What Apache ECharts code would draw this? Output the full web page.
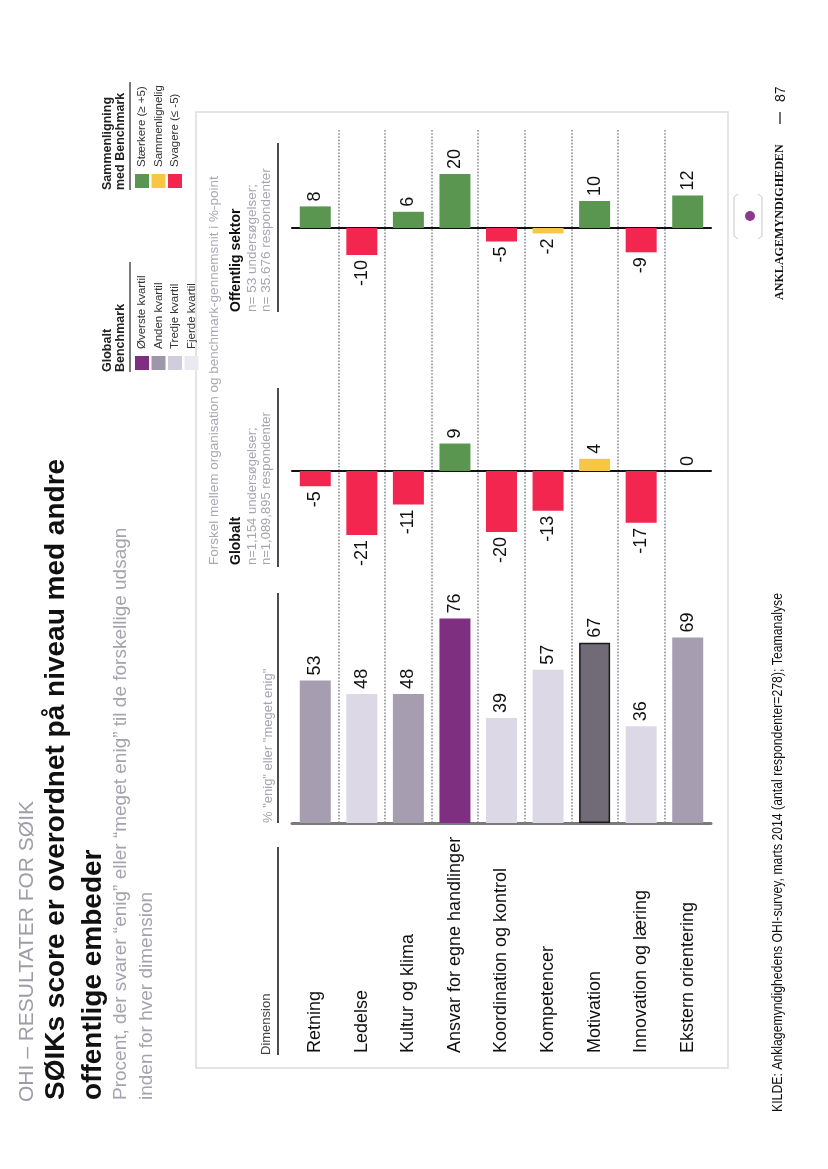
<!DOCTYPE html>
<html><head><meta charset="utf-8">
<script src="https://cdn.jsdelivr.net/npm/echarts@6/dist/echarts.min.js"></script>
<style>html,body{margin:0;padding:0;background:#fff}#c{width:828px;height:1169px}</style>
</head><body><div id="c"></div>
<script>
// ---------- data ----------
const dimensions = ['Retning','Ledelse','Kultur og klima','Ansvar for egne handlinger','Koordination og kontrol','Kompetencer','Motivation','Innovation og læring','Ekstern orientering'];
const agreePct = [53,48,48,76,39,57,67,36,69];
const benchmarkQuartile = [2,3,2,1,3,3,2,3,2];
const highlightedDimension = 'Motivation';
const diffGlobal = [-5,-21,-11,9,-20,-13,4,-17,0];
const diffPublicSector = [8,-10,6,20,-5,-2,10,-9,12];
const quartileLegend = ['Øverste kvartil','Anden kvartil','Tredje kvartil','Fjerde kvartil'];
const compareLegend = ['Stærkere (≥ +5)','Sammenlignelig','Svagere (≤ -5)'];

// ---------- styles ----------
const FONT = 'Liberation Sans, Arial, sans-serif';
const quartileColors = {1:'#7e2f80',2:'#a69eb0',3:'#dcd8e6',4:'#eeedf3'};
const legendQuartileColors = ['#7e2f80','#9e97a8','#d2cddc','#ebe9f0'];
const cmpColors = {up:'#5b9650', same:'#f7c744', down:'#f2264f'};
function cmpColor(v){ return v >= 5 ? cmpColors.up : (v <= -5 ? cmpColors.down : cmpColors.same); }

function barLabel(v){
  const neg = v < 0;
  return {show:true, rotate:90, position: neg ? 'bottom':'top', align: neg ? 'right':'left',
    verticalAlign:'middle', distance:5, fontSize:18, fontFamily:FONT, color:'#111', formatter: String(v)};
}

const data1 = agreePct.map((v,i)=>({
  value:v,
  itemStyle: dimensions[i]===highlightedDimension
    ? {color:'#716b78', borderColor:'#1a1a1a', borderWidth:1.5}
    : {color:quartileColors[benchmarkQuartile[i]]},
  label: barLabel(v)
}));
const data2 = diffGlobal.map(v=>({value:v,itemStyle:{color:cmpColor(v)},label:barLabel(v)}));
const data3 = diffPublicSector.map(v=>({value:v,itemStyle:{color:cmpColor(v)},label:barLabel(v)}));

// ---------- graphic helpers ----------
function vt(x,y,text,opt,extra){
  return Object.assign({type:'text', x:x, y:y, rotation:Math.PI/2, silent:true, z:10,
    style:Object.assign({text:text, fill:'#222', fontSize:13, fontFamily:FONT, align:'left', verticalAlign:'middle'}, opt||{})}, extra||{});
}
function ln(x1,y1,x2,y2,stroke,w){
  return {type:'line', silent:true, z:10, shape:{x1,y1,x2,y2}, style:{stroke:stroke||'#111', lineWidth:w||1.5}};
}
function sw(cx,y0,fill){
  return {type:'rect', silent:true, z:10, shape:{x:cx-7,y:y0,width:14,height:14}, style:{fill:fill}};
}

const G = [];
// panel box
G.push({type:'rect', silent:true, z:1, shape:{x:196,y:112,width:532,height:956}, style:{fill:'none', stroke:'#dcdce0', lineWidth:1.5}});
// titles
G.push(vt(27,1102,'OHI – RESULTATER FOR SØIK',{fontSize:21, fill:'#9d9da8'}));
G.push(vt(56,1100,'SØIKs score er overordnet på niveau med andre',{fontSize:28, fontWeight:'bold', fill:'#111'}));
G.push(vt(93,1100,'offentlige embeder',{fontSize:28, fontWeight:'bold', fill:'#111'}));
G.push(vt(121,1100,'Procent, der svarer “enig” eller “meget enig” til de forskellige udsagn',{fontSize:19, fill:'#a3a3ad'}));
G.push(vt(147,1100,'inden for hver dimension',{fontSize:19, fill:'#a3a3ad'}));

// column headers
G.push(vt(266,1055,'Dimension',{fontSize:13, fill:'#444'}));
G.push(ln(278,847,278,1055));
G.push(vt(268,823,'% "enig" eller "meget enig"',{fontSize:13, fill:'#a5a5ae'}));
G.push(ln(278,593,278,823));
G.push(vt(214,565,'Forskel mellem organisation og benchmark-gennemsnit i %-point',{fontSize:13.5, fill:'#a8a8b0'}));
G.push(vt(236,565,'Globalt',{fontSize:14, fontWeight:'bold', fill:'#111'}));
G.push(vt(252,565,'n=1,154 undersøgelser;',{fontSize:13, fill:'#a5a5ae'}));
G.push(vt(266,565,'n=1,089,895 respondenter',{fontSize:13, fill:'#a5a5ae'}));
G.push(ln(278,388,278,567));
G.push(vt(236,312,'Offentlig sektor',{fontSize:14, fontWeight:'bold', fill:'#111'}));
G.push(vt(252,312,'n= 53 undersøgelser;',{fontSize:13.5, fill:'#a5a5ae'}));
G.push(vt(266,312,'n= 35.676 respondenter',{fontSize:13.5, fill:'#a5a5ae'}));
G.push(ln(278,143,278,312));

// legends
G.push(vt(108,372,'Globalt',{fontSize:12.5, fontWeight:'bold', fill:'#222'}));
G.push(vt(121,372,'Benchmark',{fontSize:12.5, fontWeight:'bold', fill:'#222'}));
G.push(ln(130,262,130,372,'#222',1.2));
quartileLegend.forEach((t,i)=>{
  const x = 142 + i*16.5;
  G.push(sw(x,356,legendQuartileColors[i]));
  G.push(vt(x,349,t,{fontSize:11.5, fill:'#333'}));
});
G.push(vt(108,190,'Sammenligning',{fontSize:12.5, fontWeight:'bold', fill:'#222'}));
G.push(vt(121,190,'med Benchmark',{fontSize:12.5, fontWeight:'bold', fill:'#222'}));
G.push(ln(130,82,130,190,'#222',1.2));
const cmpLegendColors=[cmpColors.up,cmpColors.same,cmpColors.down];
compareLegend.forEach((t,i)=>{
  const x = 142 + i*16.5;
  G.push(sw(x,174,cmpLegendColors[i]));
  G.push(vt(x,167,t,{fontSize:11.5, fill:'#333'}));
});

// footer
G.push(vt(778,1112,'KILDE: Anklagemyndighedens OHI-survey, marts 2014 (antal respondenter=278); Teamanalyse',{fontSize:14, fill:'#111'},{scaleX:0.875}));
G.push(vt(780,300,'ANKLAGEMYNDIGHEDEN',{fontSize:11.5, fontWeight:'bold', fontFamily:'Liberation Serif, DejaVu Serif, serif', fill:'#111'},{scaleX:1.05}));
G.push(ln(780,112,780,124,'#111',1.2));
G.push(vt(781,102,'87',{fontSize:14, fill:'#111'}));
// logo
G.push({type:'circle', silent:true, z:10, shape:{cx:750,cy:216,r:5}, style:{fill:'#8c3a8c'}});
G.push({type:'polyline', silent:true, z:10, shape:{points:[[738,194],[734,197],[734,236],[738,239]]}, style:{stroke:'#c8c8cc',lineWidth:1,fill:'none'}});
G.push({type:'polyline', silent:true, z:10, shape:{points:[[758,194],[762,197],[762,236],[758,239]]}, style:{stroke:'#c8c8cc',lineWidth:1,fill:'none'}});

const hiddenY = (min,max,gi)=>({type:'value', gridIndex:gi, min:min, max:max, show:false, splitLine:{show:false}});
const catX = (gi, line)=>({type:'category', gridIndex:gi, data:dimensions, axisTick:{show:false},
  axisLabel:{show:false}, axisLine: line, splitLine:{show:false}});

const option = {
  animation:false,
  grid:[
    {left:292, width:419, top:554, height:269},
    {left:292, width:419, top:425.25, height:122},
    {left:292, width:419, top:147, height:135},
    {left:292, width:419, top:130, height:692}
  ],
  xAxis:[
    {type:'category', gridIndex:0, data:dimensions, axisTick:{show:false},
     axisLine:{show:true, lineStyle:{color:'#7a7a7a', width:3}},
     axisLabel:{show:true, interval:0, rotate:90, align:'left', verticalAlign:'middle', margin:230,
       fontSize:18, fontFamily:FONT, color:'#111'}},
    catX(1,{show:true, onZero:true, lineStyle:{color:'#111', width:2}}),
    catX(2,{show:true, onZero:true, lineStyle:{color:'#111', width:2}}),
    {type:'value', gridIndex:3, min:0, max:9, interval:1, axisLine:{show:false}, axisTick:{show:false}, axisLabel:{show:false},
     splitLine:{show:true, showMinLine:false, showMaxLine:false, lineStyle:{type:'dotted', color:'#8e8e98', width:1.6}}}
  ],
  yAxis:[hiddenY(0,100,0), hiddenY(-25,15,1), hiddenY(-20,30,2), hiddenY(0,1,3)],
  series:[
    {type:'bar', xAxisIndex:0, yAxisIndex:0, barWidth:31, data:data1, z:3},
    {type:'bar', xAxisIndex:1, yAxisIndex:1, barWidth:31, data:data2, z:3},
    {type:'bar', xAxisIndex:2, yAxisIndex:2, barWidth:31, data:data3, z:3}
  ],
  graphic: G
};
const chart = echarts.init(document.getElementById('c'), null, {renderer:'canvas'});
chart.setOption(option);
</script></body></html>
